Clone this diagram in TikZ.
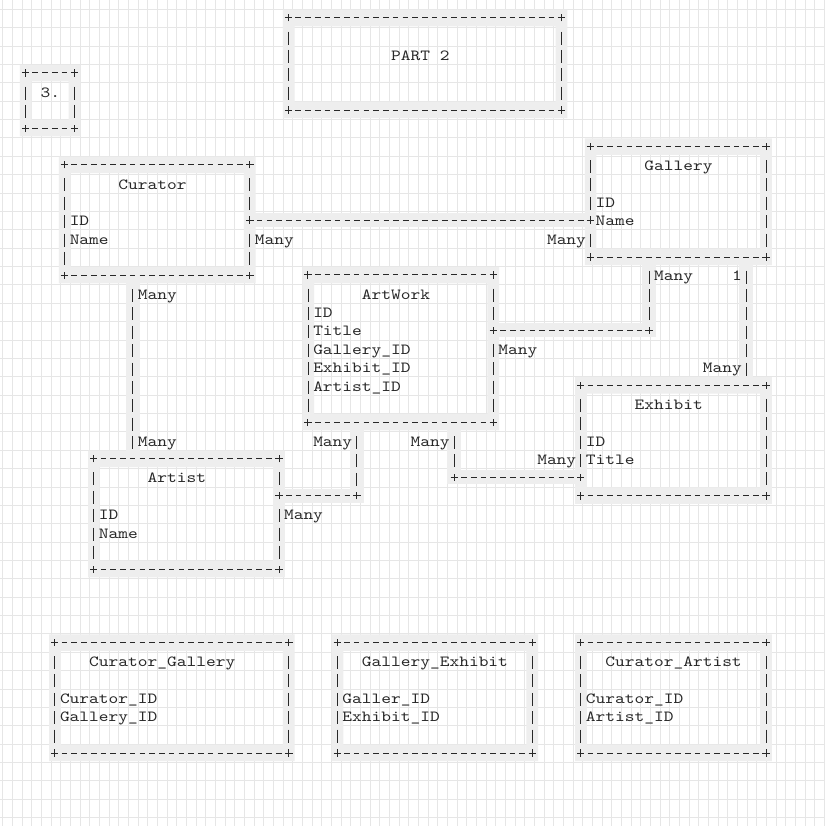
\documentclass[tikz,border=0pt]{standalone}
\usepackage{fontspec}
\usetikzlibrary{fit}
\newfontfamily\asciifont{lmmono10-regular}[Extension=.otf,FakeStretch=1.2]
\definecolor{ink}{RGB}{40,40,40}
\definecolor{band}{RGB}{238,238,238}
\definecolor{gridgray}{RGB}{230,230,230}
\pgfdeclarelayer{gridlayer}
\pgfdeclarelayer{bandlayer}
\pgfsetlayers{gridlayer,bandlayer,main}
\tikzset{
  txt/.style={font=\asciifont\fontsize{15.45pt}{18.37pt}\selectfont, text=ink,
    inner sep=0pt, text height=11.4pt, text depth=0pt, anchor=west},
  hline/.style={draw=ink, line width=1pt, dash pattern=on 5.6pt off 4.14pt,
    dash phase=7.67pt, shorten <=4.87pt, shorten >=4.87pt},
  vline/.style={draw=ink, line width=0.9pt, dash pattern=on 13pt off 5.37pt,
    dash phase=13.845pt, shorten <=9.185pt, shorten >=9.185pt},
  gridline/.style={draw=gridgray, line width=0.8pt},
  linkband/.style={draw=band, line width=14pt, line join=miter},
  crossmark/.pic={\draw[ink, line width=1pt] (-3.7pt,0) -- (3.7pt,0) (0,-3.7pt) -- (0,3.7pt);},
  junction/.pic={\fill[band] (-4.87pt,-9.185pt) rectangle (4.87pt,9.185pt);
    \draw[ink, line width=1pt] (-3.7pt,0) -- (3.7pt,0) (0,-3.7pt) -- (0,3.7pt);}
}
\newcommand{\asciibox}[5]{%
  \begin{pgfonlayer}{bandlayer}
    \fill[band, even odd rule] (#2-0.6,#3-0.45) rectangle (#4+0.6,#5+0.45)
      (#2+0.6,#3+0.45) rectangle (#4-0.6,#5-0.45);
  \end{pgfonlayer}
  \node[fit={(#2,#3) (#4,#5)}, inner sep=0pt] (#1) {};
  \draw[hline] (#1.north west) -- (#1.north east);
  \draw[hline] (#1.south west) -- (#1.south east);
  \draw[vline] (#1.north west) -- (#1.south west);
  \draw[vline] (#1.north east) -- (#1.south east);
  \foreach \k in {north west,north east,south west,south east}
    \pic at (#1.\k) {crossmark};
}
\newcommand{\linkband}[1]{%
  \begin{pgfonlayer}{bandlayer}\draw[linkband] #1;\end{pgfonlayer}}

\begin{document}
\begin{tikzpicture}[x=9.74pt, y=-18.37pt]
    \useasboundingbox (3.5pt,18pt) rectangle (827.5pt,-808pt);
    \begin{pgfonlayer}{gridlayer}
      \fill[white] (3.5pt,18pt) rectangle (827.5pt,-808pt);
      \foreach \k in {0,...,85}
        \draw[gridline] (6.2pt+\k*9.667pt,18pt) -- (6.2pt+\k*9.667pt,-808pt);
      \foreach \k in {0,...,44}
        \draw[gridline] (3.5pt,8.7pt-\k*18.37pt) -- (827.5pt,8.7pt-\k*18.37pt);
    \end{pgfonlayer}

    \asciibox{part2}{30}{0}{58}{5}
    \asciibox{three}{3}{3}{8}{6}
    \asciibox{curator}{7}{8}{26}{14}
    \asciibox{gallery}{61}{7}{79}{13}
    \asciibox{artwork}{32}{14}{51}{22}
    \asciibox{artist}{10}{24}{29}{30}
    \asciibox{exhibit}{60}{20}{79}{26}
    \asciibox{curgal}{6}{34}{30}{40}
    \asciibox{galexh}{35}{34}{55}{40}
    \asciibox{curart}{60}{34}{79}{40}

    \node[txt] (part2-head) at (40.5,2) {PART 2};
    \node[txt] (three-head) at (4.5,4) {3.};
    \node[txt] (curator-head) at (12.5,9) {Curator};
    \node[txt] (curator-id) at (7.5,11) {ID};
    \node[txt] (curator-name) at (7.5,12) {Name};
    \node[txt] (gallery-head) at (66.5,8) {Gallery};
    \node[txt] (gallery-id) at (61.5,10) {ID};
    \node[txt] (gallery-name) at (61.5,11) {Name};
    \node[txt] (artwork-head) at (37.5,15) {ArtWork};
    \node[txt] (artwork-id) at (32.5,16) {ID};
    \node[txt] (artwork-title) at (32.5,17) {Title};
    \node[txt] (artwork-galid) at (32.5,18) {Gallery\_ID};
    \node[txt] (artwork-exhid) at (32.5,19) {Exhibit\_ID};
    \node[txt] (artwork-artid) at (32.5,20) {Artist\_ID};
    \node[txt] (artist-head) at (15.5,25) {Artist};
    \node[txt] (artist-id) at (10.5,27) {ID};
    \node[txt] (artist-name) at (10.5,28) {Name};
    \node[txt] (exhibit-head) at (65.5,21) {Exhibit};
    \node[txt] (exhibit-id) at (60.5,23) {ID};
    \node[txt] (exhibit-title) at (60.5,24) {Title};
    \node[txt] (curgal-head) at (9.5,35) {Curator\_Gallery};
    \node[txt] (curgal-cur) at (6.5,37) {Curator\_ID};
    \node[txt] (curgal-gal) at (6.5,38) {Gallery\_ID};
    \node[txt] (galexh-head) at (37.5,35) {Gallery\_Exhibit};
    \node[txt] (galexh-gal) at (35.5,37) {Galler\_ID};
    \node[txt] (galexh-exh) at (35.5,38) {Exhibit\_ID};
    \node[txt] (curart-head) at (62.5,35) {Curator\_Artist};
    \node[txt] (curart-cur) at (60.5,37) {Curator\_ID};
    \node[txt] (curart-art) at (60.5,38) {Artist\_ID};

    % Curator - Gallery
    \linkband{(curator.east |- curator-id) -- (gallery.west |- gallery-name)}
    \draw[hline] (curator.east |- curator-id) -- (gallery.west |- gallery-name);
    \pic at (curator.east |- curator-id) {junction};
    \pic at (gallery.west |- gallery-name) {junction};
    \node[txt] (curgal-many1) at (26.5,12) {Many};
    \node[txt] (curgal-many2) at (56.5,12) {Many};

    % Curator - Artist
    \linkband{(curator.south -| 14,0) -- (artist.north -| 14,0)}
    \draw[vline] (curator.south -| 14,0) -- (artist.north -| 14,0);
    \node[txt] (curart-many1) at (14.5,15) {Many};
    \node[txt] (curart-many2) at (14.5,23) {Many};

    % ArtWork - Gallery
    \coordinate (awgal) at (artwork-title -| 67,0);
    \linkband{(artwork.east |- awgal) -- (awgal) -- (gallery.south -| awgal)}
    \draw[hline] (artwork.east |- awgal) -- (awgal);
    \draw[vline] (gallery.south -| awgal) -- (awgal);
    \pic at (artwork.east |- awgal) {junction};
    \pic at (awgal) {crossmark};
    \node[txt] (awgal-many1) at (51.5,18) {Many};
    \node[txt] (awgal-many2) at (67.5,14) {Many};

    % Gallery - Exhibit
    \linkband{(gallery.south -| 77,0) -- (exhibit.north -| 77,0)}
    \draw[vline] (gallery.south -| 77,0) -- (exhibit.north -| 77,0);
    \node[txt] (galexh-one) at (75.5,14) {1};
    \node[txt] (galexh-many) at (72.5,19) {Many};

    % ArtWork - Exhibit
    \coordinate (awexh) at (47,25);
    \linkband{(artwork.south -| awexh) -- (awexh) -- (exhibit.west |- awexh)}
    \draw[vline] (artwork.south -| awexh) -- (awexh);
    \draw[hline] (awexh) -- (exhibit.west |- awexh);
    \pic at (awexh) {crossmark};
    \pic at (exhibit.west |- awexh) {junction};
    \node[txt] (awexh-many1) at (42.5,23) {Many};
    \node[txt] (awexh-many2) at (55.5,24) {Many};

    % ArtWork - Artist
    \coordinate (awart) at (37,26);
    \linkband{(artwork.south -| awart) -- (awart) -- (artist.east |- awart)}
    \draw[vline] (artwork.south -| awart) -- (awart);
    \draw[hline] (artist.east |- awart) -- (awart);
    \pic at (awart) {crossmark};
    \pic at (artist.east |- awart) {junction};
    \node[txt] (awart-many1) at (32.5,23) {Many};
    \node[txt] (awart-many2) at (29.5,27) {Many};
\end{tikzpicture}
\end{document}
